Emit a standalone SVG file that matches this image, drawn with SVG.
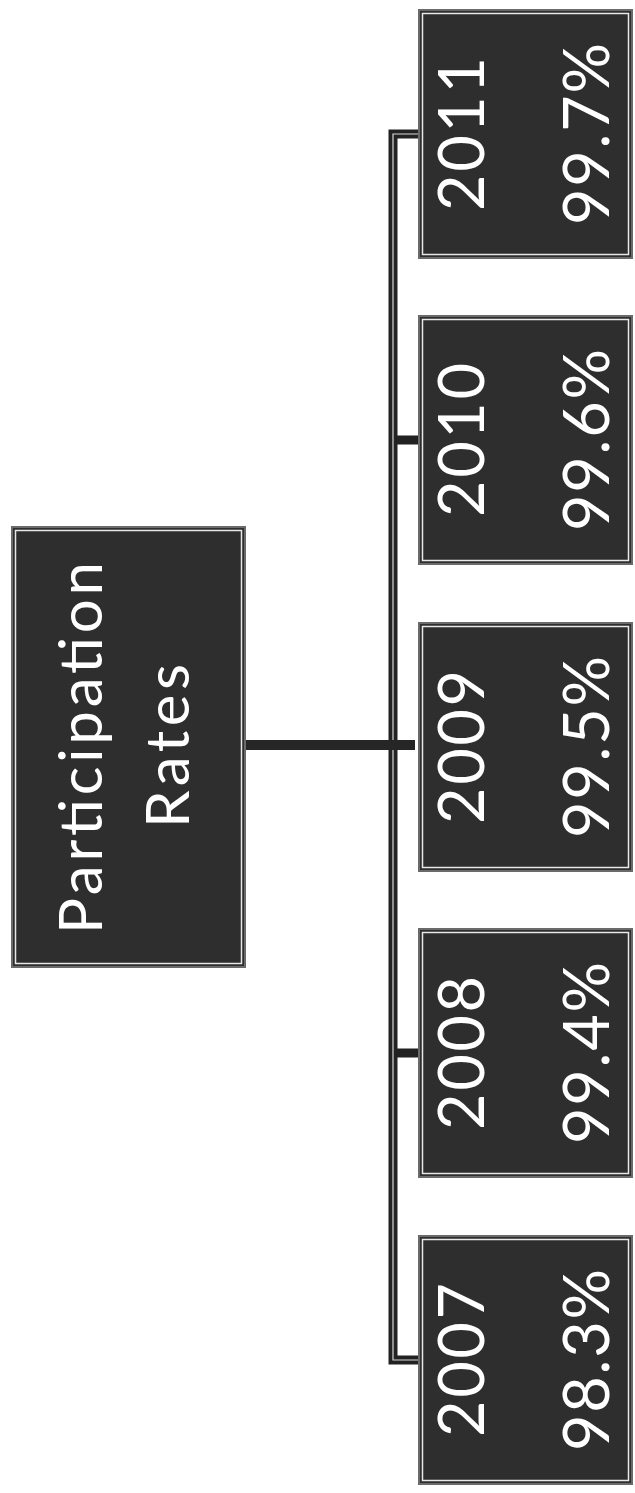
<svg xmlns="http://www.w3.org/2000/svg" width="635" height="1493" viewBox="0 0 635 1493">
  <style>
    .box { fill: #2e2e2e; stroke: #6a6a6a; stroke-width: 2; }
    .inner { fill: none; stroke: #e8e8e8; stroke-width: 1.5; }
    .t { font-family: Lato, "Open Sans", sans-serif; fill: #ffffff; text-anchor: middle; }
    .year { font-size: 63px; }
    .pct { font-size: 63px; }
    .main { font-size: 60px; }
    .bus { fill: none; stroke: #222222; stroke-width: 9; }
    .busline { fill: none; stroke: #d8d8d8; stroke-width: 1.2; }
    .stem { fill: none; stroke: #262626; stroke-width: 10; }
  </style>
  <rect width="635" height="1493" fill="#ffffff"/>

  <g id="connectors">
    <path class="bus" d="M 419 134 H 393 V 1360 H 419"/>
    <path class="bus" d="M 393 440 H 419 M 393 1053 H 419"/>
    <path class="busline" d="M 419 134 H 393 V 1360 H 419"/>
    <path class="stem" d="M 246 745 H 415"/>
  </g>

  <g id="node-main">
    <rect class="box" x="12" y="527" width="233" height="440"/>
    <rect class="inner" x="15.5" y="530.5" width="226" height="433"/>
    <text class="t main" transform="translate(102 748) rotate(-90)" textLength="372" lengthAdjust="spacing">Participation</text>
    <text class="t main" transform="translate(189 746) rotate(-90)" textLength="164" lengthAdjust="spacing">Rates</text>
  </g>

  <g id="node-2011">
    <rect class="box" x="419" y="10" width="213" height="248"/>
    <rect class="inner" x="422.5" y="13.5" width="206" height="241"/>
    <text class="t year" transform="translate(484 134) rotate(-90)" textLength="154" lengthAdjust="spacing">2011</text>
    <text class="t pct" transform="translate(609 134) rotate(-90)" textLength="182" lengthAdjust="spacing">99.7%</text>
  </g>

  <g id="node-2010">
    <rect class="box" x="419" y="316" width="213" height="248"/>
    <rect class="inner" x="422.5" y="319.5" width="206" height="241"/>
    <text class="t year" transform="translate(484 440) rotate(-90)" textLength="154" lengthAdjust="spacing">2010</text>
    <text class="t pct" transform="translate(609 440) rotate(-90)" textLength="182" lengthAdjust="spacing">99.6%</text>
  </g>

  <g id="node-2009">
    <rect class="box" x="419" y="623" width="213" height="248"/>
    <rect class="inner" x="422.5" y="626.5" width="206" height="241"/>
    <text class="t year" transform="translate(484 747) rotate(-90)" textLength="154" lengthAdjust="spacing">2009</text>
    <text class="t pct" transform="translate(609 747) rotate(-90)" textLength="182" lengthAdjust="spacing">99.5%</text>
  </g>

  <g id="node-2008">
    <rect class="box" x="419" y="929" width="213" height="248"/>
    <rect class="inner" x="422.5" y="932.5" width="206" height="241"/>
    <text class="t year" transform="translate(484 1053) rotate(-90)" textLength="154" lengthAdjust="spacing">2008</text>
    <text class="t pct" transform="translate(609 1053) rotate(-90)" textLength="182" lengthAdjust="spacing">99.4%</text>
  </g>

  <g id="node-2007">
    <rect class="box" x="419" y="1236" width="213" height="248"/>
    <rect class="inner" x="422.5" y="1239.5" width="206" height="241"/>
    <text class="t year" transform="translate(484 1360) rotate(-90)" textLength="154" lengthAdjust="spacing">2007</text>
    <text class="t pct" transform="translate(609 1360) rotate(-90)" textLength="182" lengthAdjust="spacing">98.3%</text>
  </g>
</svg>
